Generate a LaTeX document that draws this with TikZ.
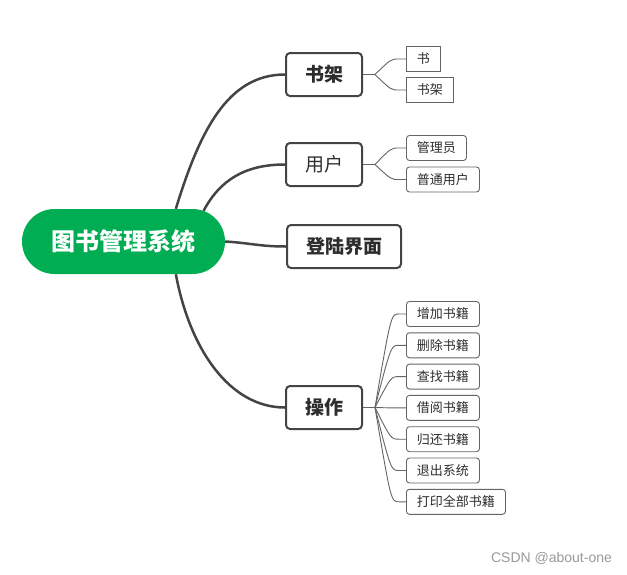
\documentclass[tikz,border=0pt]{standalone}
\usepackage{fontspec}
\setmainfont{Noto Sans CJK SC}
\newfontfamily\markfont{Liberation Sans}
\usetikzlibrary{shapes.misc}
\definecolor{rootgreen}{RGB}{0,173,82}
\definecolor{linegray}{RGB}{68,68,68}
\definecolor{leafgray}{RGB}{100,100,100}
\definecolor{textgray}{RGB}{45,45,45}
\tikzset{
	rootnode/.style={shape=rounded rectangle, fill=rootgreen, text=white, minimum width=203pt, minimum height=65pt, inner sep=0pt, font=\fontsize{24}{24}\selectfont\bfseries},
	mainbox/.style={draw=linegray, line width=2pt, rounded corners=4pt, fill=white, text=textgray, minimum height=43pt, inner xsep=19pt, inner ysep=0pt, font=\fontsize{19}{19}\selectfont},
	leafbox/.style={draw=leafgray, line width=0.9pt, rounded corners=3pt, text=textgray, minimum height=25pt, inner xsep=10.5pt, inner ysep=0pt, anchor=west, font=\fontsize{13}{13}\selectfont},
	mainline/.style={draw=linegray, line width=2.5pt},
	leafline/.style={draw=leafgray, line width=0.9pt},
}

\begin{document}
\begin{tikzpicture}[x=1pt,y=-1pt]
				%%%%% START %%%%%
				\def\xmain{324}
				\def\xjoin{375}
				\def\xleaf{406}
				\def\dy{31.3}
				
				\useasboundingbox (0,0) rectangle (627,574);
				
				\node[rootnode] (root) at (123.5,241.5) {图书管理系统};
				
				\node[mainbox, font=\fontsize{19}{19}\selectfont\bfseries] (shelf) at (\xmain,74.5) {书架};
				\node[mainbox] (user) at (\xmain,164.5) {用户};
				\node[mainbox, font=\fontsize{19}{19}\selectfont\bfseries] (login) at (344,246.5) {登陆界面};
				\node[mainbox, font=\fontsize{19}{19}\selectfont\bfseries] (oper) at (\xmain,407.5) {操作};
				
				\draw[mainline] (root.32) .. controls (200,130) and (228,74.5) .. (shelf.west);
				\draw[mainline] (root.21) .. controls (220,180) and (245,164.5) .. (user.west);
				\draw[mainline] (root.east) .. controls (250,243) and (260,246.5) .. (login.west);
				\draw[mainline] (root.-32) .. controls (190,350) and (230,407.5) .. (oper.west);
				
				\node[leafbox, sharp corners] (bk1) at (\xleaf,59) {书};
				\node[leafbox, sharp corners] (bk2) at (\xleaf,90) {书架};
				\node[leafbox] (us1) at (\xleaf,148) {管理员};
				\node[leafbox] (us2) at (\xleaf,179.5) {普通用户};
				\foreach \t [count=\i] in {增加书籍,删除书籍,查找书籍,借阅书籍,归还书籍,退出系统,打印全部书籍}
					\node[leafbox] (op\i) at (\xleaf,{282.7+\dy*\i}) {\t};
				
				\coordinate (shelfj) at (\xjoin,74.5);
				\coordinate (userj) at (\xjoin,164.5);
				\coordinate (operj) at (\xjoin,407.5);
				\coordinate (bendA) at (\xjoin+16,0);
				\coordinate (bendB) at (\xjoin+24,0);
				
				\draw[leafline] (shelf.east) -- (shelfj);
				\draw[leafline] (user.east) -- (userj);
				\draw[leafline] (oper.east) -- (operj);
				\foreach \n in {bk1,bk2}
					\draw[leafline] (shelfj) .. controls (bendA |- \n.west) .. (bendB |- \n.west) -- (\n.west);
				\foreach \n in {us1,us2}
					\draw[leafline] (userj) .. controls (bendA |- \n.west) .. (bendB |- \n.west) -- (\n.west);
				\foreach \i in {1,...,7}
					\draw[leafline] (operj) .. controls (bendA |- op\i.west) .. (bendB |- op\i.west) -- (op\i.west);
				
				\node[text=black!40, font=\markfont\fontsize{14}{14}\selectfont] (mark) at (551.5,558.5) {CSDN @about-one};
				%%%%% END %%%%%
\end{tikzpicture}
\end{document}
